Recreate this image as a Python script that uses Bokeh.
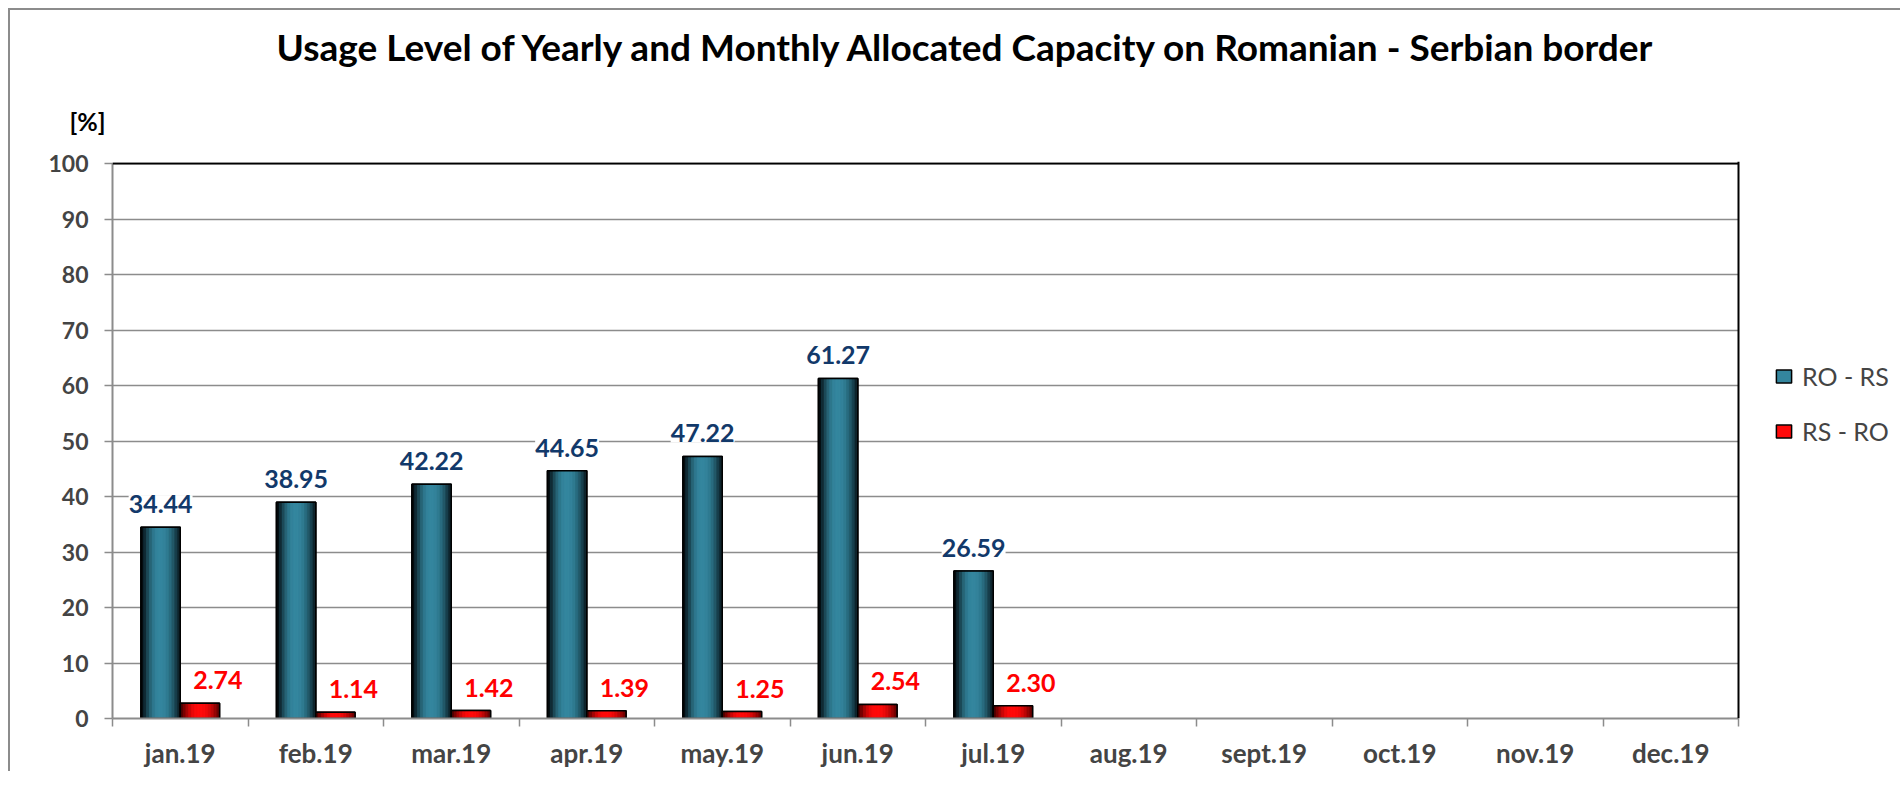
from bokeh.plotting import figure
from bokeh.models import (ColumnDataSource, FixedTicker, LabelSet, Legend,
                          LegendItem, Span, Range1d, Title, BoxAnnotation)
from bokeh.embed import file_html
from bokeh.resources import INLINE
from bokeh.core.properties import value
from bokeh.transform import dodge

# ---------------- data ----------------
months = ["jan.19", "feb.19", "mar.19", "apr.19", "may.19", "jun.19",
          "jul.19", "aug.19", "sept.19", "oct.19", "nov.19", "dec.19"]
ro_rs = [34.44, 38.95, 42.22, 44.65, 47.22, 61.27, 26.59]
rs_ro = [2.74, 1.14, 1.42, 1.39, 1.25, 2.54, 2.30]
series_names = ["RO - RS", "RS - RO"]
y_ticks = [0, 10, 20, 30, 40, 50, 60, 70, 80, 90, 100]
title_text = "Usage Level of Yearly and Monthly Allocated Capacity on Romanian - Serbian border"
unit_text = "[%]"

# ---------------- styles / layout ----------------
FONT = "Lato"
GRID = "#8c8c8c"
BAR_W = 0.29
OFF = 0.145
N_STRIP = 14
PLOT_W = 1626          # width of the category area in px
PLOT_H = 555           # height of the 0..100 area in px
FRAME_W = 1788         # frame extends to the right to hold the legend
FRAME_H = 557          # a little headroom above 100 for the top border line
n_cat = len(months)
y_max = y_ticks[-1]
x_end = n_cat * FRAME_W / PLOT_W
y_end = y_max * FRAME_H / PLOT_H

centers = [i + 0.5 for i in range(n_cat)]
bounds = [float(i) for i in range(n_cat + 1)]

src_a = ColumnDataSource(dict(x=centers[:len(ro_rs)], top=ro_rs,
                              label=["%.2f" % v for v in ro_rs]))
src_b = ColumnDataSource(dict(x=centers[:len(rs_ro)], top=rs_ro,
                              label=["%.2f" % v for v in rs_ro]))

p = figure(frame_width=FRAME_W, frame_height=FRAME_H,
           min_border_left=102, min_border_right=0,
           min_border_top=151, min_border_bottom=53,
           x_range=Range1d(0, x_end), y_range=Range1d(0, y_end),
           output_backend="svg", toolbar_location=None, tools="",
           background_fill_color="white", border_fill_color="white")
p.outline_line_color = None
p.title.visible = False


def mix(c1, c2, t):
    a = [int(c1[i:i + 2], 16) for i in (1, 3, 5)]
    b = [int(c2[i:i + 2], 16) for i in (1, 3, 5)]
    return "#%02x%02x%02x" % tuple(int(round(a[k] + (b[k] - a[k]) * t)) for k in range(3))


profile = [0.0, 0.25, 0.5, 0.72, 0.88, 0.97, 1.0, 1.0, 0.97, 0.9, 0.78, 0.62, 0.42, 0.2]


def gradient_bar(src, offset, dark, light):
    base = p.vbar(x=dodge("x", offset), top="top", width=BAR_W, source=src,
                  fill_color=light, line_color="black", line_width=1.5)
    sw = BAR_W / N_STRIP
    for k in range(N_STRIP):
        col = mix(dark, light, profile[k])
        p.vbar(x=dodge("x", offset - BAR_W / 2 + (k + 0.5) * sw), top="top",
               width=sw, source=src, fill_color=col, line_color=col, line_width=0.6)
    p.vbar(x=dodge("x", offset), top="top", width=BAR_W, source=src,
           fill_color=None, line_color="black", line_width=1.5)
    return base


r_a = gradient_bar(src_a, -OFF, "#040c10", "#34869e")
r_b = gradient_bar(src_b, OFF, "#4a0000", "#ff0a0a")

# data labels
lab_a = LabelSet(x=dodge("x", -OFF), y="top", text="label", source=src_a,
                 y_offset=23, text_align="center", text_baseline="middle",
                 text_font=value(FONT), text_font_style="bold",
                 text_font_size="25px", text_color="#12396a",
                 background_fill_color="white")
lab_b = LabelSet(x=dodge("x", OFF), y="top", text="label", source=src_b,
                 x_offset=18, y_offset=23, text_align="center", text_baseline="middle",
                 text_font=value(FONT), text_font_style="bold",
                 text_font_size="25px", text_color="#ff0000",
                 background_fill_color="white")
p.add_layout(lab_a)
p.add_layout(lab_b)

# grid and axes
p.xgrid.visible = False
p.ygrid.ticker = FixedTicker(ticks=y_ticks)
p.ygrid.grid_line_color = GRID
p.ygrid.grid_line_width = 1.5

yax = p.yaxis[0]
yax.ticker = FixedTicker(ticks=y_ticks)
yax.bounds = (0, y_max)
yax.axis_line_color = GRID
yax.axis_line_width = 2
yax.major_tick_in = 0
yax.major_tick_out = 8
yax.major_tick_line_color = GRID
yax.major_tick_line_width = 1.5
yax.minor_tick_line_color = None
yax.major_label_text_font = FONT
yax.major_label_text_font_style = "bold"
yax.major_label_text_font_size = "23px"
yax.major_label_standoff = 16

xax = p.xaxis[0]
xax.ticker = FixedTicker(ticks=centers, minor_ticks=bounds)
xax.bounds = (0, n_cat)
xax.major_label_overrides = {c: m for c, m in zip(centers, months)}
xax.axis_line_color = GRID
xax.axis_line_width = 2
xax.major_tick_line_color = None
xax.major_tick_in = 0
xax.major_tick_out = 0
xax.minor_tick_in = 0
xax.minor_tick_out = 8
xax.minor_tick_line_color = GRID
xax.minor_tick_line_width = 1.5
xax.major_label_text_font = FONT
xax.major_label_text_font_style = "bold"
xax.major_label_text_font_size = "26px"
xax.major_label_standoff = 10

# top border line, white cover right of / above the plot area, right border line
p.add_layout(Span(location=y_max, dimension="width", line_color="black", line_width=2))
p.add_layout(BoxAnnotation(left=n_cat, fill_color="white", fill_alpha=1.0,
                           line_color=None))
p.add_layout(BoxAnnotation(bottom=y_max + (y_end - y_max) * 0.6, fill_color="white",
                           fill_alpha=1.0, line_color=None))
p.add_layout(Span(location=n_cat, dimension="height", line_color="black", line_width=2))

# unit and title (above panel)
p.add_layout(Title(text=unit_text, align="left", offset=-43, standoff=51,
                   text_font=FONT, text_font_style="bold", text_font_size="25px",
                   text_color="black"), "above")
p.add_layout(Title(text=title_text, align="left", offset=164, standoff=20,
                   text_font=FONT, text_font_style="bold", text_font_size="37px",
                   text_color="black"), "above")

# legend (inside the extended frame)
legend = Legend(items=[LegendItem(label=series_names[0], renderers=[r_a]),
                       LegendItem(label=series_names[1], renderers=[r_b])],
                location=(1662, 272), orientation="vertical",
                label_text_font=FONT, label_text_font_size="25px",
                glyph_width=19, glyph_height=16, label_standoff=9,
                spacing=25, padding=0, margin=0,
                border_line_color=None, background_fill_alpha=0)
p.add_layout(legend)

p.styles = {"margin-left": "8px", "margin-top": "8px",
            "border-left": "2px solid #8c8c8c", "border-top": "2px solid #8c8c8c"}

open("out.html", "w").write(file_html(p, INLINE))
